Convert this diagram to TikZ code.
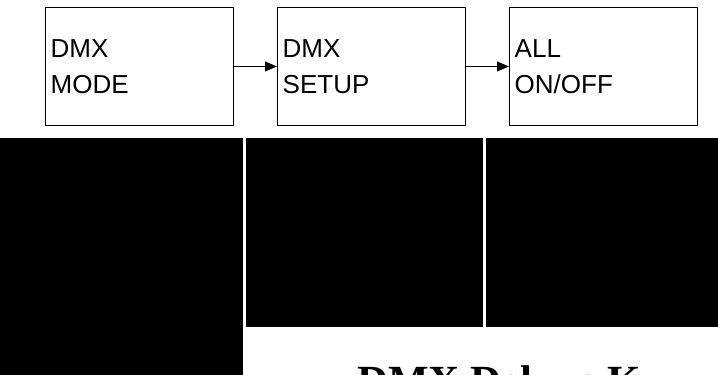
\documentclass[tikz,border=0pt]{standalone}
\usepackage{fontspec}
\setmainfont{Liberation Serif}
\newfontfamily\boxfont{Liberation Sans}
\usetikzlibrary{arrows.meta,calc}
\tikzset{
  menubox/.style={draw=black, line width=1pt, minimum width=188pt, minimum height=118pt, inner sep=0pt, anchor=north west},
  menulabel/.style={anchor=base west, inner sep=0pt, align=left, font=\boxfont\fontsize{26}{36}\selectfont},
  flow/.style={draw=black, line width=1pt, -{Triangle[length=12pt,width=10pt]}},
  blackpanel/.style={fill=black, draw=none},
  titletext/.style={anchor=base west, inner sep=0pt, font=\bfseries\fontsize{43}{50}\selectfont}
}
\begin{document}
\begin{tikzpicture}[x=1pt,y=-1pt]
\useasboundingbox (0,0) rectangle (718,375);
\clip (0,0) rectangle (718,375);
\node[menubox] (b1) at (45,7) {};
\node[menubox] (b2) at (277,7) {};
\node[menubox] (b3) at (509,7) {};
\node[menulabel] (t1) at ($(b1.north west)+(5.5,86)$) {DMX\\MODE};
\node[menulabel] (t2) at ($(b2.north west)+(5.5,86)$) {DMX\\SETUP};
\node[menulabel] (t3) at ($(b3.north west)+(5.5,86)$) {ALL\\ON/OFF};
\draw[flow] (b1.east) -- (b2.west);
\draw[flow] (b2.east) -- (b3.west);
\fill[blackpanel] (0,138) rectangle (243,375);
\fill[blackpanel] (246,138) rectangle (483,327);
\fill[blackpanel] (486,138) rectangle (718,327);
\node[titletext] (title) at (357,395) {DMX Deluxe K};
\end{tikzpicture}
\end{document}
